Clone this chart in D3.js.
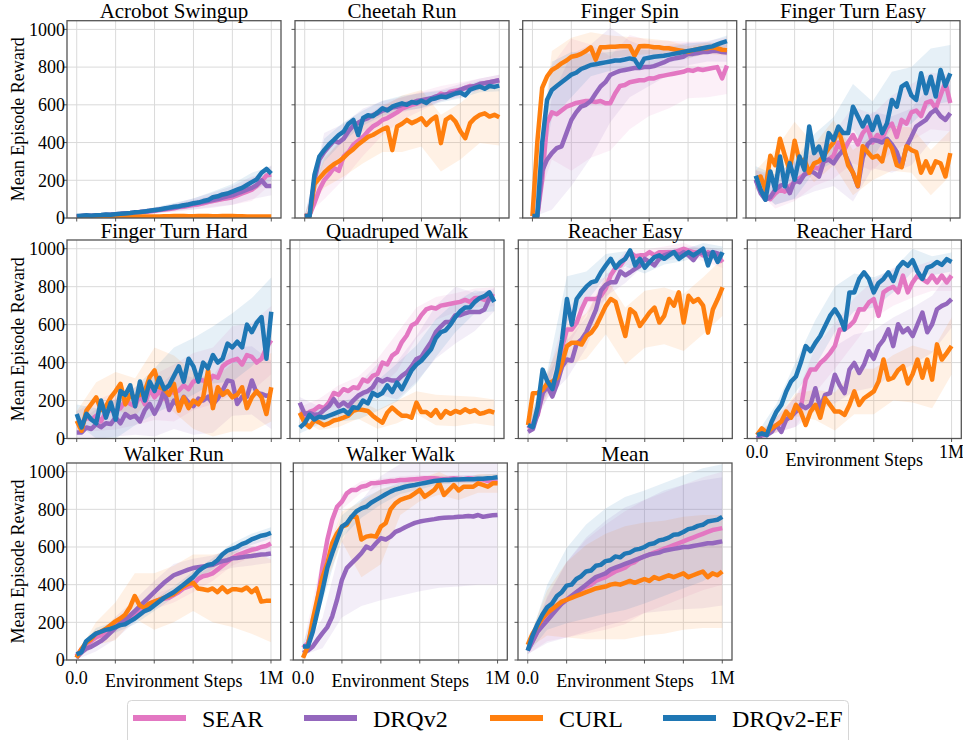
<!DOCTYPE html>
<html>
<head>
<meta charset="utf-8">
<script src="https://cdn.jsdelivr.net/npm/d3@7/dist/d3.min.js"></script>
<style>
	body { margin: 0; background: #fff; }
	svg { font-family: "Liberation Serif", "Times New Roman", serif; }
</style>
</head>
<body>
<svg id="chart" width="963" height="740"></svg>
<script>
// series order in every task array: SEAR, DRQv2, CURL, DRQv2-EF
var methods = ['SEAR', 'DRQv2', 'CURL', 'DRQv2-EF'];
var colors = ['#e377c2', '#9467bd', '#ff7f0e', '#1f77b4'];

// environment steps (millions) for the mean curves
var steps = [0, 0.025, 0.05, 0.075, 0.1, 0.125, 0.15, 0.175, 0.2, 0.225,
	0.25, 0.275, 0.3, 0.325, 0.35, 0.375, 0.4, 0.425, 0.45, 0.475,
	0.5, 0.525, 0.55, 0.575, 0.6, 0.625, 0.65, 0.675, 0.7, 0.725,
	0.75, 0.775, 0.8, 0.825, 0.85, 0.875, 0.9, 0.925, 0.95, 0.975, 1];
// coarser steps for the std bands
var bandSteps = [0, 0.1, 0.2, 0.3, 0.4, 0.5, 0.6, 0.7, 0.8, 0.9, 1];

var xTicks = [0, 0.2, 0.4, 0.6, 0.8, 1];
var yTicks = [0, 200, 400, 600, 800, 1000];

var acrobotSwingup = [
	[5,10,12,10,12,14,15,16,18,20,22,25,28,30,32,35,38,42,45,48,52,58,60,65,70,72,78,85,90,95,100,105,110,120,130,140,150,170,195,225,230],
	[8,10,12,12,14,15,17,18,20,22,25,26,28,32,35,38,40,45,48,52,56,60,65,70,75,80,85,90,95,100,108,115,120,130,140,150,160,175,200,170,170],
	[2,3,3,4,4,5,5,5,6,6,7,7,7,8,8,8,8,8,9,9,10,10,10,9,9,10,10,10,9,9,10,10,10,9,9,8,8,8,8,8,8],
	[10,12,14,12,15,16,18,17,20,22,24,26,30,32,35,38,42,45,50,55,60,62,68,72,78,82,90,95,110,115,125,130,140,150,160,175,190,205,240,260,235]
];
var acrobotSwingupStd = [
	[5,5,5,10,15,20,25,30,40,60,50],
	[5,5,5,10,15,20,30,40,50,60,50],
	[2,3,3,3,3,3,3,3,3,3,3],
	[5,5,5,10,15,20,25,30,40,50,40]
];

var cheetahRun = [
	[10,15,80,150,200,230,265,250,326,350,388,410,430,460,485,500,520,530,545,560,580,590,600,605,620,615,630,640,660,650,670,675,680,690,700,695,710,715,720,725,730],
	[10,12,200,310,350,380,410,400,420,460,490,505,520,530,545,555,570,575,585,590,600,605,610,620,625,630,635,645,650,655,660,665,680,690,695,700,710,715,720,725,730],
	[10,12,180,210,240,265,285,300,320,345,365,390,410,430,440,455,470,480,360,485,500,520,503,515,529,494,520,538,397,520,538,511,460,423,503,530,547,555,538,547,534],
	[10,10,229,326,360,390,414,440,458,500,520,440,530,545,540,560,582,570,590,600,608,600,615,610,622,610,630,635,644,640,650,660,665,650,680,690,697,685,700,695,702]
];
var cheetahRunStd = [
	[5,100,120,100,80,60,50,40,40,30,30],
	[5,100,80,60,50,40,40,30,30,30,30],
	[5,80,100,120,120,150,150,150,150,150,150],
	[5,60,50,40,40,40,40,30,30,30,30]
];

var fingerSpin = [
	[10,10,200,503,560,550,570,590,600,610,615,620,620,615,620,608,608,660,700,705,720,725,730,730,741,740,750,755,760,765,770,775,785,780,790,785,790,795,800,740,808],
	[10,10,250,309,344,370,380,450,520,560,591,600,620,660,697,720,758,770,780,785,790,795,795,800,800,805,815,825,838,845,850,855,870,870,875,880,880,885,885,880,878],
	[10,400,690,750,785,800,820,835,855,860,870,885,905,840,905,905,908,908,910,910,910,860,910,912,910,905,905,900,900,895,890,885,880,890,895,900,900,905,900,892,890],
	[10,10,397,626,679,700,720,740,760,770,790,800,811,815,820,825,830,835,835,840,846,840,800,845,850,855,858,860,865,870,875,880,885,890,895,900,905,910,920,930,938]
];
var fingerSpinStd = [
	[5,250,350,300,250,250,200,180,150,150,150],
	[5,300,350,300,250,150,100,80,60,50,50],
	[5,100,100,80,60,50,40,40,30,30,30],
	[5,150,120,60,50,50,40,40,40,30,30]
];

var fingerTurnEasy = [
	[203,150,120,100,130,150,140,170,190,210,230,240,270,260,300,310,330,400,350,400,440,390,450,480,400,440,420,480,500,430,520,500,560,570,540,610,620,580,650,720,610],
	[203,132,97,110,150,170,180,132,200,190,230,250,240,220,300,310,290,330,360,300,238,168,320,390,414,410,400,420,390,350,273,379,430,485,503,520,556,574,540,520,556],
	[203,220,150,330,280,420,330,250,410,300,310,240,290,300,330,370,400,470,380,280,240,170,380,350,320,330,300,410,370,280,270,380,360,350,240,300,240,300,290,220,344],
	[224,150,97,247,150,326,168,291,203,326,256,485,344,379,309,450,414,485,450,450,590,538,485,538,467,538,450,503,626,590,697,714,650,626,767,661,749,644,785,700,767]
];
var fingerTurnEasyStd = [
	[50,80,100,100,120,150,150,150,150,150,150],
	[50,80,100,100,120,150,150,150,150,150,150],
	[50,80,100,100,120,120,120,120,120,120,120],
	[50,80,100,100,120,120,150,150,150,150,150]
];

var fingerTurnHard = [
	[94,80,110,100,120,90,140,150,147,160,200,182,170,230,180,260,217,250,210,260,240,253,280,260,300,310,306,290,330,320,380,400,412,420,390,440,430,400,420,480,518],
	[32,32,58,50,76,60,80,76,111,80,129,110,120,90,150,182,130,180,253,150,200,170,220,190,170,210,200,220,180,210,253,306,300,182,220,220,306,240,235,225,230],
	[94,41,147,182,217,150,170,217,250,288,180,230,217,230,250,324,359,270,260,230,288,147,217,160,200,180,217,359,160,270,230,250,217,230,270,160,217,250,217,129,270],
	[129,58,130,100,80,200,110,190,100,250,230,280,170,300,200,300,250,320,260,280,330,380,300,420,380,300,400,370,440,400,420,500,480,510,480,600,560,610,640,420,668]
];
var fingerTurnHardStd = [
	[50,80,100,100,120,150,150,150,180,180,180],
	[50,80,100,100,120,150,150,150,180,180,180],
	[50,80,100,100,120,150,150,150,180,180,180],
	[50,80,100,100,120,150,150,150,180,180,180]
];

var quadrupedWalk = [
	[136,120,140,150,170,160,190,240,230,260,250,270,265,310,300,330,340,400,390,437,455,508,543,596,610,650,680,690,685,700,705,710,715,720,730,720,740,740,730,755,747],
	[189,130,135,125,128,150,170,207,170,190,170,200,225,240,250,270,313,300,313,305,305,330,348,380,419,430,470,508,561,590,614,614,650,650,660,667,667,667,680,738,730],
	[136,83,60,95,85,70,80,95,101,110,120,145,154,150,145,120,101,83,136,163,140,120,120,110,189,140,140,120,150,110,145,130,145,136,154,140,150,130,136,145,136],
	[57,80,125,100,115,110,120,130,140,150,130,165,160,200,185,240,225,240,280,245,295,260,310,360,390,410,440,470,530,560,570,600,640,670,690,690,720,740,750,770,720]
];
var quadrupedWalkStd = [
	[30,40,50,60,80,100,80,60,50,50,50],
	[30,40,50,60,80,100,120,140,150,100,60],
	[30,40,40,50,50,60,60,80,80,70,70],
	[30,40,50,60,80,100,100,100,80,60,50]
];

var reacherEasy = [
	[53,80,124,239,274,274,330,480,575,575,610,680,735,735,735,752,790,860,900,912,950,982,960,965,965,982,965,982,982,982,982,990,1000,990,982,982,965,982,970,965,929],
	[35,50,133,240,274,221,290,380,416,410,500,522,560,620,681,780,810,823,823,880,860,876,894,910,947,930,912,947,965,975,982,965,982,965,940,975,982,970,982,975,965],
	[71,239,240,256,292,300,320,398,487,505,505,495,540,558,593,646,699,735,720,628,540,681,660,593,628,664,690,611,646,735,700,770,611,752,720,735,700,558,680,735,797],
	[71,60,168,363,300,260,363,520,735,600,735,770,800,823,830,876,912,947,900,930,947,991,912,947,900,930,956,965,947,965,982,947,965,982,965,982,1000,912,982,930,982]
];
var reacherEasyStd = [
	[20,60,100,80,60,40,30,30,30,30,30],
	[20,60,100,80,60,40,30,30,30,30,30],
	[20,60,100,120,150,150,150,150,150,150,150],
	[20,60,120,80,60,40,30,30,30,30,30]
];

var reacherHard = [
	[9,18,18,50,71,80,100,120,142,160,310,363,363,398,420,450,487,575,575,593,620,681,680,717,735,646,770,788,800,770,858,770,823,858,840,823,858,823,858,823,858],
	[0,18,18,35,71,35,100,115,142,177,160,177,265,160,230,239,336,280,239,363,398,345,389,460,420,487,520,575,487,602,560,580,540,602,664,560,602,681,699,710,735],
	[18,53,30,53,71,90,142,110,177,140,71,142,177,110,212,177,142,142,124,177,248,177,212,230,248,301,416,310,320,360,381,290,340,416,320,416,310,496,416,450,487],
	[18,27,18,88,142,177,248,300,327,400,487,460,504,540,593,646,681,640,575,770,770,841,876,841,770,820,841,876,830,900,930,910,940,880,841,900,910,930,915,945,930]
];
var reacherHardStd = [
	[10,40,80,120,120,120,100,100,80,80,80],
	[10,40,80,120,150,150,150,150,150,150,150],
	[10,40,60,80,100,120,120,120,150,150,150],
	[10,40,80,120,120,100,80,60,60,50,50]
];

var walkerRun = [
	[21,57,80,100,120,130,140,160,180,195,210,225,240,260,280,300,310,320,325,330,345,360,380,390,400,430,445,450,460,480,500,520,540,555,565,575,585,590,600,605,618],
	[12,40,60,70,85,100,120,145,170,195,215,235,260,285,310,335,360,385,410,430,450,460,470,480,488,492,496,500,505,515,525,530,540,542,545,550,552,556,560,562,566],
	[12,57,92,110,140,150,165,185,205,220,240,280,340,290,276,300,310,320,330,340,350,370,390,405,410,380,376,370,380,360,385,360,375,375,370,385,360,380,310,314,314],
	[30,40,100,120,140,150,160,165,175,185,190,205,220,240,260,270,290,310,330,345,360,380,400,420,440,470,490,505,510,530,560,580,590,600,615,625,640,650,660,665,675]
];
var walkerRunStd = [
	[10,30,30,30,40,40,40,40,40,40,40],
	[10,40,60,60,60,60,50,50,50,50,50],
	[10,60,100,120,150,150,150,180,200,220,220],
	[10,30,30,30,30,30,30,30,30,30,30]
];

var walkerWalk = [
	[64,90,178,320,496,638,744,814,841,885,903,903,920,925,938,940,943,947,950,952,956,956,958,960,962,965,965,965,962,960,962,965,962,960,965,962,960,958,950,947,947],
	[37,50,72,108,143,175,231,320,426,488,514,540,567,602,590,620,647,640,655,680,691,705,717,728,735,740,744,748,753,755,757,758,760,762,765,762,770,760,765,768,770],
	[11,72,214,330,440,514,620,673,708,717,761,761,640,655,660,655,708,726,800,832,850,859,867,885,903,867,885,903,938,876,903,929,900,920,920,920,938,930,920,938,938],
	[72,72,150,260,370,490,567,638,708,726,761,790,805,814,835,850,865,880,894,905,912,920,925,929,935,940,945,950,953,956,956,958,958,960,960,960,962,962,965,967,970]
];
var walkerWalkStd = [
	[10,60,40,30,20,20,20,20,20,20,20],
	[10,80,200,280,330,350,370,370,370,370,370],
	[10,80,80,200,200,80,60,60,50,50,50],
	[10,60,60,50,40,30,30,20,20,20,20]
];

var meanScore = [
	[50,100,150,190,220,250,280,300,320,340,360,375,390,400,420,430,440,455,470,480,490,510,520,540,550,560,570,580,590,600,610,620,630,640,650,660,670,680,690,695,700],
	[50,100,150,180,210,240,270,300,320,340,360,380,400,420,440,450,460,480,490,500,510,520,530,540,550,560,565,570,580,585,590,595,600,600,605,610,615,620,620,625,630],
	[80,140,180,220,250,270,290,310,320,330,340,350,360,370,380,385,390,400,405,400,410,420,410,420,430,420,440,430,440,450,440,450,460,440,450,460,470,440,460,450,470],
	[50,130,190,240,280,300,340,360,395,400,430,445,470,475,500,505,525,530,550,545,565,570,585,590,600,615,620,635,640,650,665,668,680,695,700,712,718,735,740,745,760]
];
var meanScoreStd = [
	[20,120,200,250,280,300,300,300,300,300,300],
	[20,120,200,250,280,300,300,320,330,340,340],
	[20,120,200,250,280,300,300,300,300,300,300],
	[20,120,200,250,280,300,300,300,300,300,280]
];

var taskNames = ['Acrobot Swingup', 'Cheetah Run', 'Finger Spin', 'Finger Turn Easy',
	'Finger Turn Hard', 'Quadruped Walk', 'Reacher Easy', 'Reacher Hard',
	'Walker Run', 'Walker Walk', 'Mean'];
var taskSeries = [acrobotSwingup, cheetahRun, fingerSpin, fingerTurnEasy,
	fingerTurnHard, quadrupedWalk, reacherEasy, reacherHard,
	walkerRun, walkerWalk, meanScore];
var taskStd = [acrobotSwingupStd, cheetahRunStd, fingerSpinStd, fingerTurnEasyStd,
	fingerTurnHardStd, quadrupedWalkStd, reacherEasyStd, reacherHardStd,
	walkerRunStd, walkerWalkStd, meanScoreStd];

var svg = d3.select('#chart');

// panel boxes (the original figure has slightly uneven columns)
var panelW = 214;
var rowBox = [{top: 20.7, bottom: 218}, {top: 240, bottom: 438.5}, {top: 463, bottom: 660}];
var colLeft = [[67, 295, 522.7, 746], [67, 290, 518.3, 747.3], [66.7, 293.3, 518]];

taskNames.forEach(function(name, k) {
	var r = Math.floor(k / 4), c = k % 4;
	var left = colLeft[r][c], top = rowBox[r].top, bottom = rowBox[r].bottom;

	var x = d3.scaleLinear().domain([-0.05, 1.05]).range([left, left + panelW]);
	var y = d3.scaleLinear().domain([0, 1046]).range([bottom, top]);

	var g = svg.append('g').attr('class', 'panel');

	var clipId = 'clip' + k;
	svg.append('clipPath').attr('id', clipId)
		.append('rect')
		.attr('x', left).attr('y', top)
		.attr('width', panelW).attr('height', bottom - top);

	// grid
	g.append('g').selectAll('line.gx')
		.data(xTicks).enter().append('line')
		.attr('x1', d => x(d)).attr('x2', d => x(d))
		.attr('y1', top).attr('y2', bottom)
		.attr('stroke', '#dadada').attr('stroke-width', 1);
	g.append('g').selectAll('line.gy')
		.data(yTicks).enter().append('line')
		.attr('x1', left).attr('x2', left + panelW)
		.attr('y1', d => y(d)).attr('y2', d => y(d))
		.attr('stroke', '#dadada').attr('stroke-width', 1);

	var plot = g.append('g').attr('clip-path', 'url(#' + clipId + ')');

	var series = taskSeries[k], std = taskStd[k];

	var area = d3.area()
		.x(function(d, i) { return x(bandSteps[i]); })
		.y0(function(d) { return y(d[0]); })
		.y1(function(d) { return y(d[1]); });

	series.forEach(function(vals, m) {
		var band = bandSteps.map(function(s, i) {
			var v = vals[i * 4];
			return [v - std[m][i], v + std[m][i]];
		});
		plot.append('path')
			.datum(band)
			.attr('fill', colors[m])
			.attr('fill-opacity', 0.11)
			.attr('d', area);
	});

	var line = d3.line()
		.x(function(d, i) { return x(steps[i]); })
		.y(function(d) { return y(d); });

	series.forEach(function(vals, m) {
		plot.append('path')
			.datum(vals)
			.attr('fill', 'none')
			.attr('stroke', colors[m])
			.attr('stroke-width', 4.5)
			.attr('stroke-linejoin', 'round')
			.attr('stroke-linecap', 'butt')
			.attr('d', line);
	});

	// frame
	g.append('rect')
		.attr('x', left).attr('y', top)
		.attr('width', panelW).attr('height', bottom - top)
		.attr('fill', 'none').attr('stroke', '#555').attr('stroke-width', 1.3);

	// tick marks
	g.append('g').selectAll('line')
		.data(xTicks).enter().append('line')
		.attr('x1', d => x(d)).attr('x2', d => x(d))
		.attr('y1', bottom).attr('y2', bottom + 3.5)
		.attr('stroke', '#444').attr('stroke-width', 0.9);
	g.append('g').selectAll('line')
		.data(yTicks).enter().append('line')
		.attr('x1', left - 3.5).attr('x2', left)
		.attr('y1', d => y(d)).attr('y2', d => y(d))
		.attr('stroke', '#444').attr('stroke-width', 0.9);

	// title
	g.append('text')
		.attr('x', left + panelW / 2)
		.attr('y', top - 2.5)
		.attr('text-anchor', 'middle')
		.style('font-size', '21px')
		.text(name);

	if (c === 0) {
		g.append('g').selectAll('text')
			.data(yTicks).enter().append('text')
			.attr('x', left - 2)
			.attr('y', d => y(d))
			.attr('dy', '0.35em')
			.attr('text-anchor', 'end')
			.style('font-size', '18px')
			.text(d => d);
		g.append('text')
			.attr('transform', 'translate(23.5,' + ((top + bottom) / 2) + ') rotate(-90)')
			.attr('text-anchor', 'middle')
			.style('font-size', '18px')
			.text('Mean Episode Reward');
	}

	if (r === 2 || (r === 1 && c === 3)) {
		var tickBase = r === 2 ? bottom + 24 : bottom + 19;
		var labelBase = r === 2 ? bottom + 27 : bottom + 27.5;
		g.append('text').attr('x', x(0)).attr('y', tickBase)
			.attr('text-anchor', 'middle').style('font-size', '18px').text('0.0');
		g.append('text').attr('x', x(1)).attr('y', tickBase)
			.attr('text-anchor', 'middle').style('font-size', '18px').text('1M');
		g.append('text').attr('x', left + panelW / 2).attr('y', labelBase)
			.attr('text-anchor', 'middle').style('font-size', '18px').text('Environment Steps');
	}
});

// legend
var legend = svg.append('g');
legend.append('rect')
	.attr('x', 127.5).attr('y', 700.5)
	.attr('width', 721).attr('height', 60)
	.attr('rx', 4)
	.attr('fill', '#fff').attr('stroke', '#d6d6d6');
var legendX = [133, 304, 490, 663];
methods.forEach(function(name, m) {
	legend.append('line')
		.attr('x1', legendX[m]).attr('x2', legendX[m] + 53)
		.attr('y1', 718).attr('y2', 718)
		.attr('stroke', colors[m]).attr('stroke-width', 6);
	legend.append('text')
		.attr('x', legendX[m] + 69).attr('y', 727)
		.style('font-size', '24px')
		.text(name);
});
</script>
</body>
</html>
